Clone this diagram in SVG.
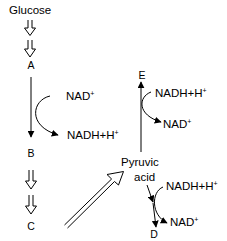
<svg xmlns="http://www.w3.org/2000/svg" width="227" height="241" viewBox="0 0 227 241">
<defs>
<style>
text{font-family:"Liberation Sans",Arial,sans-serif;fill:#000}
.t{font-size:11.5px}
.l{font-size:10.5px;text-anchor:middle}
.sup{font-size:7px}
.ln{fill:none;stroke:#000;stroke-width:1}
.ho{fill:#fff;stroke:#000;stroke-width:1}
</style>
<marker id="ah" viewBox="0 0 10 10" refX="9" refY="5" markerWidth="7" markerHeight="7" markerUnits="userSpaceOnUse" orient="auto">
<path d="M0,0 L10,5 L0,10 Z" fill="#000"/>
</marker>
</defs>
<g id="glucose"><text class="t" x="9" y="14">Glucose</text></g>
<g id="A"><text class="l" x="31" y="69">A</text></g>
<g id="B"><text class="l" x="31" y="157">B</text></g>
<g id="C"><text class="l" x="31" y="230">C</text></g>
<g id="E"><text class="l" x="142" y="79">E</text></g>
<g id="D"><text class="l" x="154" y="238">D</text></g>
<g id="pyruvic"><text class="t" x="121" y="166">Pyruvic</text><text class="t" x="134" y="181">acid</text></g>
<g id="nad1"><text class="t" x="66" y="100">NAD<tspan class="sup" dy="-4">+</tspan></text></g>
<g id="nadh1"><text class="t" x="67" y="139">NADH+H<tspan class="sup" dy="-4">+</tspan></text></g>
<g id="nadh2"><text class="t" x="155" y="97">NADH+H<tspan class="sup" dy="-4">+</tspan></text></g>
<g id="nad2"><text class="t" x="163" y="128">NAD<tspan class="sup" dy="-4">+</tspan></text></g>
<g id="nadh3"><text class="t" x="166" y="190">NADH+H<tspan class="sup" dy="-4">+</tspan></text></g>
<g id="nad3"><text class="t" x="170" y="226">NAD<tspan class="sup" dy="-4">+</tspan></text></g>
<g id="connectors">
<path class="ho" d="M28,20 V28 H24.5 L30,35.5 L35.5,28 H32 V20"/>
<path class="ho" d="M28,40 V49 H24.5 L30,57 L35.5,49 H32 V40"/>
<path class="ho" d="M29,170 V181 H25.5 L31,189 L36.5,181 H33 V170"/>
<path class="ho" d="M29,195 V206 H25.5 L31,214 L36.5,206 H33 V195"/>
<path class="ho" d="M64.5,225 L111.6,179 L107,174.5 L123.5,171.5 L118.5,185 L114.5,181.5 L67.5,228"/>
<line class="ln" x1="31" y1="77" x2="31" y2="137" marker-end="url(#ah)"/>
<path class="ln" d="M50,96 C32,100 27,126 58,135" marker-end="url(#ah)"/>
<line class="ln" x1="141" y1="152" x2="141" y2="82" marker-end="url(#ah)"/>
<path class="ln" d="M151,92 C138,97 137,115 161,122" marker-end="url(#ah)"/>
<line class="ln" x1="147" y1="185" x2="153" y2="202" marker-end="url(#ah)"/>
<line class="ln" x1="153" y1="203" x2="156" y2="227" marker-end="url(#ah)"/>
<path class="ln" d="M163,187 C151,192 151,215 167,223" marker-end="url(#ah)"/>
</g>
</svg>
